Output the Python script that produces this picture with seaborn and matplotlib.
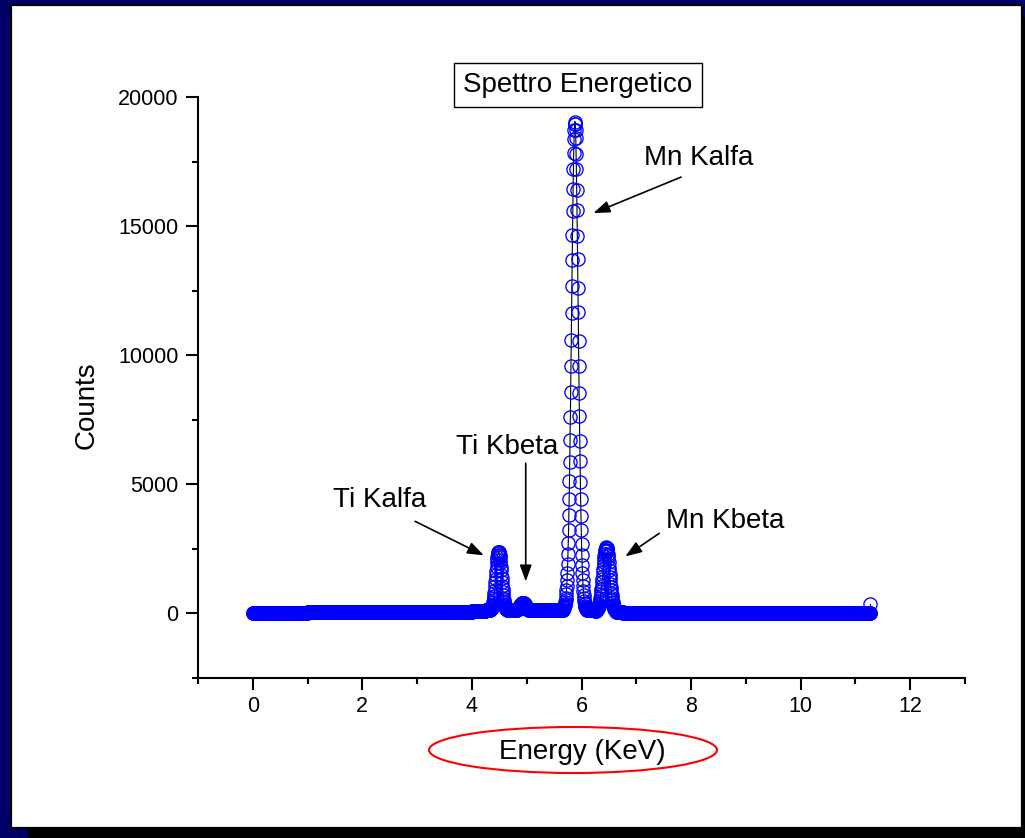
import numpy as np
import pandas as pd
import matplotlib
matplotlib.use("Agg")
import matplotlib.pyplot as plt
from matplotlib.patches import Rectangle, Ellipse
import seaborn as sns

# ---------------------------------------------------------------------------
# Spectrum data
# ---------------------------------------------------------------------------
# Detector calibration: channel index -> energy in keV
n_channels = 2051
kev_per_channel = 0.0055

# Continuum level, one value per 0.25 keV block starting at 0 keV
background_blocks = [15, 15, 15, 15,
                     40, 70, 65, 65, 60, 60, 60, 65, 60, 60, 65, 75,
                     95, 130, 140, 120, 115, 120, 150, 180, 140, 110, 60, 30,
                     25, 25, 25, 25,
                     20, 20, 20, 20, 20, 20, 20, 20,
                     15, 15, 15, 15, 15, 15]
block_width_kev = 0.25

# Net counts of each line, channel by channel, from its first channel
ti_kalfa_first = 788
ti_kalfa_counts = [18, 25, 35, 48, 65, 86, 114, 148, 191, 244, 306, 379, 465,
                   564, 674, 797, 929, 1070, 1219, 1371, 1522, 1670, 1810,
                   1937, 2048, 2138, 2205, 2246, 2260, 2240, 2210, 2130, 2050,
                   1930, 1815, 1665, 1525, 1365, 1225, 1065, 935, 790, 680,
                   560, 470, 375, 310, 240, 195, 145, 116, 84, 66, 47, 36, 24,
                   18]

ti_kbeta_first = 876
ti_kbeta_counts = [25, 32, 41, 50, 62, 75, 89, 105, 123, 142, 162, 182, 202,
                   222, 240, 257, 272, 284, 293, 298, 300, 297, 292, 285, 271,
                   258, 239, 223, 201, 183, 161, 143, 122, 106, 88, 76, 61,
                   51, 40, 33, 24]

mn_kalfa_first = 1031
mn_kalfa_counts = [48, 66, 89, 120, 159, 210, 274, 356, 458, 584, 739, 928,
                   1155, 1427, 1747, 2121, 2554, 3050, 3614, 4246, 4948, 5703,
                   6545, 7444, 8395, 9387, 10408, 11445, 12482, 13499, 14484,
                   15408, 16261, 17018, 17663, 18181, 18561, 18792, 18870,
                   18760, 18540, 18230, 17620, 17050, 16220, 15450, 14440,
                   13540, 12430, 11490, 10360, 9420, 8350, 7480, 6510, 5730,
                   4920, 4270, 3590, 3070, 2540, 2130, 1735, 1435, 1150, 932,
                   735, 587, 455, 358, 272, 211, 158, 121, 88, 67, 47]

mn_kbeta_first = 1140
mn_kbeta_counts = [27, 36, 46, 59, 75, 95, 120, 149, 184, 226, 275, 332, 396,
                   469, 551, 642, 740, 850, 966, 1090, 1219, 1351, 1486, 1621,
                   1753, 1881, 2000, 2111, 2210, 2293, 2361, 2410, 2440, 2450,
                   2438, 2412, 2358, 2296, 2207, 2114, 1997, 1884, 1750, 1624,
                   1483, 1354, 1216, 1093, 963, 853, 738, 644, 549, 471, 394,
                   334, 273, 228, 182, 151, 118, 96, 73, 60, 45, 37, 26]

last_channel_counts = 350

# Line labels
line_labels = ["Ti Kalfa", "Ti Kbeta", "Mn Kalfa", "Mn Kbeta"]

# ---------------------------------------------------------------------------
# Assemble the spectrum
# ---------------------------------------------------------------------------
channels = np.arange(n_channels)
energy = channels * kev_per_channel
block_index = np.minimum((energy / block_width_kev).astype(int),
                         len(background_blocks) - 1)
counts = np.array(background_blocks, dtype=float)[block_index]
for first, values in [(ti_kalfa_first, ti_kalfa_counts),
                      (ti_kbeta_first, ti_kbeta_counts),
                      (mn_kalfa_first, mn_kalfa_counts),
                      (mn_kbeta_first, mn_kbeta_counts)]:
    counts[first:first + len(values)] += np.array(values, dtype=float)
counts[-1] = last_channel_counts

df = pd.DataFrame({"energy": energy, "counts": counts})

# ---------------------------------------------------------------------------
# Figure
# ---------------------------------------------------------------------------
sns.set_theme(style="ticks")
plt.rcParams["font.family"] = ["Liberation Sans", "DejaVu Sans"]

W, H = 1025, 838
fig = plt.figure(figsize=(W / 100, H / 100), dpi=100, facecolor="#000068")


def fx(px):
    return px / W


def fy(py):
    return 1 - py / H


# white sheet with a drop shadow
fig.add_artist(Rectangle((fx(28), fy(845)), fx(1040) - fx(28), fy(17) - fy(845),
                         transform=fig.transFigure, facecolor="black",
                         edgecolor="none", zorder=-3))
fig.add_artist(Rectangle((fx(11), fy(828)), fx(1022) - fx(11), fy(5) - fy(828),
                         transform=fig.transFigure, facecolor="white",
                         edgecolor="black", linewidth=1.6, zorder=-2))

ax = fig.add_axes([fx(198), fy(678), fx(965) - fx(198), fy(97) - fy(678)])
ax.set_facecolor("none")

sns.lineplot(data=df, x="energy", y="counts", ax=ax, color="black",
             linewidth=0.8, marker="o", markersize=9.5,
             markerfacecolor="none", markeredgecolor="#0000ff",
             markeredgewidth=0.95, estimator=None, sort=False)
for ln in ax.lines:
    ln.set_markerfacecolor("none")
    ln.set_markeredgecolor("#0000ff")

ax.set_xlim(-1, 13)
ax.set_ylim(-2500, 20000)
ax.set_xticks(np.arange(0, 13, 2))
ax.set_xticks(np.arange(-1, 14, 2), minor=True)
ax.set_yticks(np.arange(0, 20001, 5000))
ax.set_yticks(np.arange(-2500, 20001, 2500), minor=True)

for side in ["top", "right"]:
    ax.spines[side].set_visible(False)
for side in ["left", "bottom"]:
    ax.spines[side].set_linewidth(1.5)
    ax.spines[side].set_color("black")

ax.tick_params(which="major", direction="out", length=8.6, width=1.5,
               labelsize=15.5, colors="black")
ax.tick_params(which="minor", direction="out", length=4.3, width=1.5,
               colors="black")
ax.tick_params(axis="y", which="major", pad=5.5)
ax.tick_params(axis="x", which="major", pad=4.5)

ax.set_xlabel("Energy (KeV)", fontsize=20, color="black")
ax.set_ylabel("Counts", fontsize=20, color="black")
ax.xaxis.label.set_va("center")
ax.yaxis.label.set_va("center")
ax.xaxis.set_label_coords((582 - 198) / 767, (678 - 752) / 581)
ax.yaxis.set_label_coords((87 - 198) / 767, (678 - 405) / 581)

# title in a box
fig.text(fx(578), fy(85), "Spettro Energetico", ha="center", va="center",
         fontsize=20, color="black",
         bbox=dict(boxstyle="square,pad=0.32", facecolor="white",
                   edgecolor="black", linewidth=1.0))

# red ring around the energy label
fig.add_artist(Ellipse((fx(573), fy(750)), fx(288), 46 / H,
                       transform=fig.transFigure, fill=False,
                       edgecolor="red", linewidth=1.5))

# line labels with arrows
label_xy = [(1.473, 4380), (3.709, 6434), (7.145, 17636), (7.545, 3566)]
arrow_tail = [(2.964, 3566), (4.982, 5814), (7.818, 16899), (7.418, 3101)]
arrow_head = [(4.218, 2248), (4.982, 1240), (6.218, 15504), (6.800, 2209)]
for name, pos, tail, head in zip(line_labels, label_xy, arrow_tail, arrow_head):
    ax.text(pos[0], pos[1], name, ha="left", va="center", fontsize=20,
            color="black")
    ax.annotate("", xy=head, xytext=tail,
                arrowprops=dict(arrowstyle="-|>,head_length=0.55,head_width=0.2",
                                color="black", lw=1.2, mutation_scale=18,
                                shrinkA=0, shrinkB=0))

fig.savefig("out.png", dpi=100, facecolor=fig.get_facecolor())
